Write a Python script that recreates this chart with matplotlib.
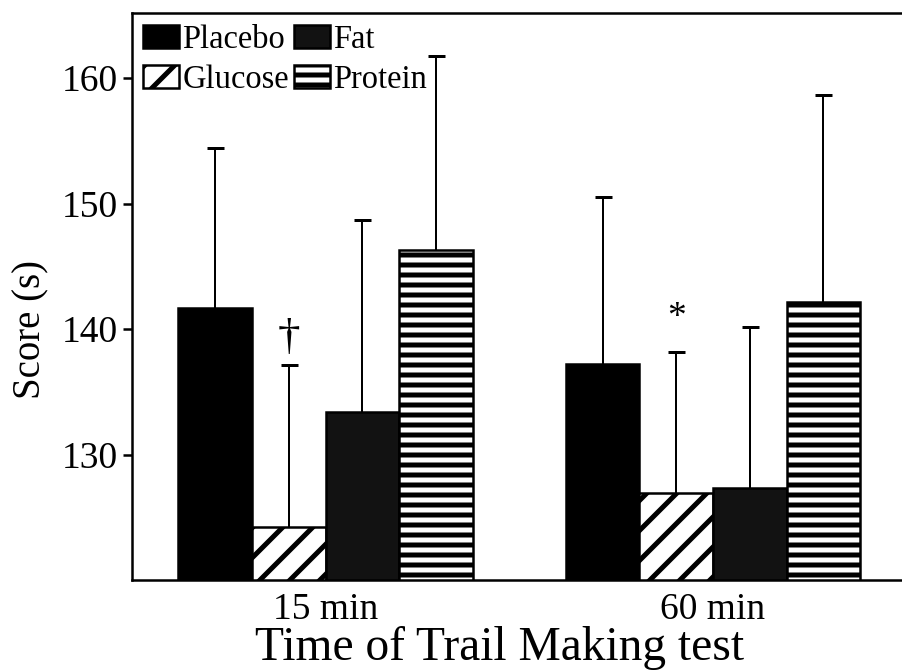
import matplotlib
matplotlib.use("Agg")
import matplotlib.pyplot as plt
import numpy as np

# Trail Making test scores (s) by drink condition
times = ["15 min", "60 min"]
conditions = ["Placebo", "Glucose", "Fat", "Protein"]
placebo = [141.7, 137.2]
glucose = [124.2, 126.9]
fat = [133.4, 127.3]
protein = [146.3, 142.2]
placebo_sd = [12.7, 13.3]
glucose_sd = [12.9, 11.3]
fat_sd = [15.3, 12.9]
protein_sd = [15.5, 16.5]
yticks = [130, 140, 150, 160]
marks = ["\u2020", "*"]  # significance markers above the Glucose bars

plt.rcParams["font.family"] = ["Liberation Serif", "DejaVu Serif"]
plt.rcParams["hatch.linewidth"] = 2.0

DPI = 180
fig = plt.figure(figsize=(902 / DPI, 671 / DPI), dpi=DPI)
ax = fig.add_axes([132 / 902, 1 - 580 / 671, 1 - 132 / 902, (580 - 13) / 671])

x = np.arange(len(times))
width = 0.19
offsets = (np.arange(4) - 1.5) * width

means = [placebo, glucose, fat, protein]
sds = [placebo_sd, glucose_sd, fat_sd, protein_sd]
styles = [
    dict(facecolor="black", hatch=None),
    dict(facecolor="white", hatch="//"),
    dict(facecolor="#121212", hatch=None),
    dict(facecolor="white", hatch="---"),
]

handles = []
for name, vals, sd, off, st in zip(conditions, means, sds, offsets, styles):
    b = ax.bar(x + off, vals, width, facecolor=st["facecolor"], hatch=st["hatch"],
               edgecolor="black", linewidth=1.0, label=name, zorder=2)
    handles.append(b)
    eb = ax.errorbar(x + off, vals, yerr=[np.zeros(len(vals)), sd], fmt="none",
                     ecolor="black", elinewidth=0.8, capsize=3.4, capthick=1.2, zorder=3)
    for cl in eb[1]:
        if np.allclose(cl.get_ydata(), vals):
            cl.set_visible(False)

# markers over the Glucose bars
gx = x + offsets[1]
gtop = np.array(glucose) + np.array(glucose_sd)
ax.text(gx[0], gtop[0] + 1.35, marks[0], ha="center", va="baseline", fontsize=18)
ax.text(gx[1], gtop[1] + 1.3, marks[1], ha="center", va="bottom", fontsize=15)

ax.set_xlim(-0.5, 1.488)
ax.set_ylim(120, 165.2)
ax.set_yticks(yticks)
ax.set_xticks(x)
ax.set_xticklabels(times)
ax.tick_params(axis="y", direction="out", length=3.5, width=1.0, labelsize=15, pad=2)
ax.tick_params(axis="x", length=0, labelsize=15, pad=5)
ax.spines["right"].set_visible(False)
for s in ["left", "top", "bottom"]:
    ax.spines[s].set_linewidth(1.0)

ax.set_ylabel("Score (s)", fontsize=15.5)
ax.yaxis.set_label_coords(-0.107, 0.441)
ax.set_xlabel("Time of Trail Making test", fontsize=19)
ax.xaxis.set_label_coords(0.477, -0.082)
ax.xaxis.label.set_verticalalignment("top")

ax.legend(handles=handles, ncol=2, loc="upper left", frameon=False, fontsize=13,
          handlelength=1.1, handleheight=0.7, handletextpad=0.1, columnspacing=0.15,
          labelspacing=0.3, borderaxespad=0.15, borderpad=0.2)

fig.savefig("out.png", dpi=DPI)
